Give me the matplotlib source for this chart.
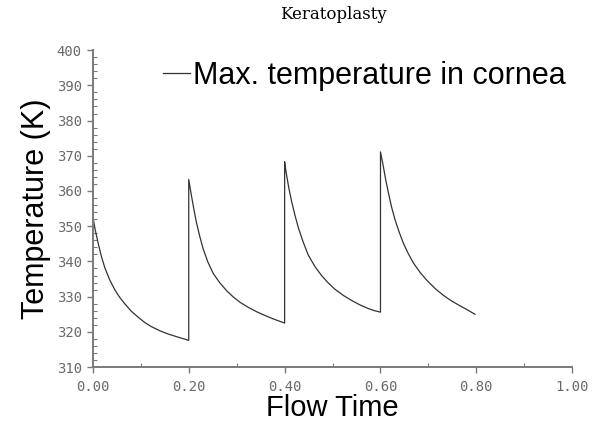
import matplotlib
matplotlib.use("Agg")
import matplotlib.pyplot as plt
from matplotlib.ticker import MultipleLocator, FormatStrFormatter

# values, one list pair per heating pulse
t1 = [0.000, 0.005, 0.011, 0.018, 0.025, 0.035, 0.046, 0.056, 0.067, 0.080,
      0.095, 0.108, 0.122, 0.140, 0.157, 0.178, 0.200]
T1 = [352.6, 348.9, 345.2, 341.3, 338.2, 334.8, 331.9, 329.8, 327.9, 325.9,
      324.1, 322.7, 321.5, 320.3, 319.4, 318.5, 317.6]
t2 = [0.200, 0.200, 0.203, 0.206, 0.211, 0.216, 0.223, 0.230, 0.240, 0.251,
      0.265, 0.279, 0.293, 0.307, 0.325, 0.342, 0.360, 0.376, 0.390, 0.400]
T2 = [317.6, 363.3, 360.8, 358.4, 354.6, 351.1, 347.1, 343.6, 339.8, 336.6,
      333.9, 331.7, 329.9, 328.4, 326.9, 325.7, 324.6, 323.7, 323.0, 322.5]
t3 = [0.400, 0.400, 0.402, 0.404, 0.409, 0.415, 0.422, 0.429, 0.439, 0.449,
      0.463, 0.477, 0.491, 0.505, 0.522, 0.540, 0.558, 0.575, 0.588, 0.600]
T3 = [322.5, 368.3, 366.4, 364.6, 360.7, 356.8, 352.9, 349.4, 345.4, 341.9,
      338.6, 336.0, 333.9, 332.1, 330.4, 328.9, 327.6, 326.6, 326.0, 325.6]
t4 = [0.600, 0.600, 0.603, 0.606, 0.611, 0.617, 0.623, 0.630, 0.639, 0.648,
      0.658, 0.669, 0.683, 0.697, 0.714, 0.731, 0.748, 0.766, 0.782, 0.797]
T4 = [325.6, 371.1, 369.0, 366.9, 363.1, 359.2, 355.5, 352.0, 348.3, 345.1,
      342.2, 339.5, 336.8, 334.6, 332.3, 330.4, 328.8, 327.4, 326.2, 325.0]

time = t1 + t2 + t3 + t4
temp = T1 + T2 + T3 + T4

fig = plt.figure(figsize=(6.03, 4.21), dpi=100)
ax = fig.add_axes([0.154, 0.128, 0.795, 0.753])

ax.plot(time, temp, color='#333333', lw=0.9, label='Max. temperature in cornea')

ax.set_xlim(0, 1.0)
ax.set_ylim(310, 400)
ax.xaxis.set_major_locator(MultipleLocator(0.2))
ax.xaxis.set_minor_locator(MultipleLocator(0.1))
ax.yaxis.set_major_locator(MultipleLocator(10))
ax.yaxis.set_minor_locator(MultipleLocator(2))
ax.xaxis.set_major_formatter(FormatStrFormatter('%.2f'))

grey = '#7a7a7a'
for s in ['top', 'right']:
    ax.spines[s].set_visible(False)
for s in ['left', 'bottom']:
    ax.spines[s].set_color(grey)
    ax.spines[s].set_linewidth(1.4)

ax.tick_params(which='major', direction='out', length=4, width=1, color=grey,
               labelcolor='#6a6a6a', labelsize=10, pad=4)
ax.tick_params(which='minor', direction='in', length=3, width=0.8, color=grey)
ax.tick_params(axis='x', which='major', pad=5)
for lab in ax.get_xticklabels() + ax.get_yticklabels():
    lab.set_family('DejaVu Sans Mono')

ax.set_ylabel('Temperature (K)', fontsize=22, family='Liberation Sans', labelpad=4)
ax.set_xlabel('Flow Time', fontsize=21, family='Liberation Sans', labelpad=0)

ax.legend(loc='upper left', bbox_to_anchor=(0.12, 1.005), frameon=False,
          handlelength=0.9, handletextpad=0.1, borderaxespad=0,
          prop={'family': 'Liberation Sans', 'size': 22})

fig.suptitle('Keratoplasty', x=0.553, y=0.985, fontsize=12, family='DejaVu Serif')

fig.savefig('out.png', dpi=100)
